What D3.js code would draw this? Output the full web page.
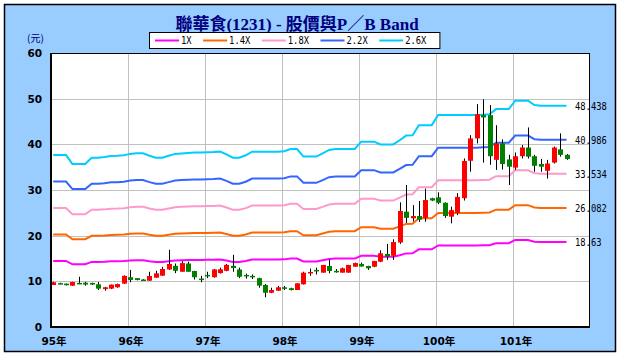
<!DOCTYPE html>
<html><head><meta charset="utf-8">
<script src="https://cdn.jsdelivr.net/npm/d3@7/dist/d3.min.js"></script>
<style>body{margin:0;background:#fff}svg{display:block}</style>
</head><body><svg id="c" width="622" height="358"></svg>
<script>
// ---- data ----
const titleText = "聯華食(1231) - 股價與P／B Band";
const unitText = "(元)";
const years = ["95年","96年","97年","98年","99年","100年","101年"];
const yTicks = [0,10,20,30,40,50,60];
const multiples = [1, 1.4, 1.8, 2.2, 2.6];
const bandNames = ["1X","1.4X","1.8X","2.2X","2.6X"];
const bandColors = ["#FF00FF","#FF6600","#FF99CC","#3366FF","#00CCFF"];
// monthly book value per share (1X line), 95/01 .. 101/09
const bps = [14.48,14.48,14.48,13.73,13.73,13.73,14.26,14.26,14.31,14.40,14.42,14.46,
  14.58,14.63,14.63,14.42,14.26,14.26,14.42,14.58,14.62,14.65,14.69,14.69,
  14.71,14.73,14.77,14.54,14.26,14.26,14.46,14.77,14.77,14.77,14.77,14.77,
  14.81,14.99,14.99,14.35,14.35,14.35,14.62,14.91,14.99,14.99,14.99,14.99,
  15.61,15.61,15.61,15.38,15.38,15.38,15.73,16.12,16.15,17.00,17.00,17.00,
  17.85,17.85,17.85,17.85,17.85,17.85,17.85,17.88,17.92,18.35,18.35,18.35,
  19.06,19.06,19.06,18.69,18.63,18.63,18.63,18.63,18.63];
const open = [9.2,9.6,9.5,9.05,9.65,9.7,9.65,9.35,8.3,8.4,8.7,9.5,
  10.9,10.7,10.4,10.14,10.8,11.24,12.6,13.4,12.1,13.9,12.26,10.6,
  11.4,10.9,11.8,12.3,13.4,12.6,11.4,11.2,10.7,9.2,7.5,7.95,
  8.7,8.5,8.1,9.35,12.0,12.5,11.9,13.36,12.3,11.9,11.9,13.2,
  13.8,13.36,13.2,14.3,16.0,15.6,18.5,25.25,23.8,24.3,23.9,28.2,
  28.4,27.2,24.16,25.0,28.2,36.4,41.3,46.4,46.4,36.6,40.2,36.7,
  34.9,37.4,39.3,37.4,35.7,34.2,36.0,38.9,37.7];
const high = [9.9,9.7,9.5,9.9,11.0,9.9,9.7,9.85,8.8,9.3,9.5,11.3,
  12.5,10.7,10.5,12.1,12.3,13.2,16.9,13.9,14.4,14.3,12.3,11.2,
  12.1,12.7,13.0,13.8,15.8,13.0,11.7,11.5,10.8,9.4,8.6,9.0,
  9.0,8.6,9.6,12.1,12.8,13.0,13.6,14.8,12.7,13.0,13.6,14.1,
  14.1,13.4,14.5,16.8,18.2,19.2,27.3,31.1,26.7,27.6,30.3,28.3,
  29.5,27.3,26.35,29.3,36.9,42.0,48.8,49.85,48.6,44.2,41.1,37.7,
  38.2,39.85,43.7,37.7,36.8,36.6,39.5,42.4,37.9];
const low = [9.2,9.4,9.1,9.0,9.5,9.05,9.2,8.1,7.95,8.3,8.6,9.4,
  9.8,10.2,10.1,10.1,10.8,11.2,12.5,11.8,12.1,12.1,10.4,9.8,
  10.7,10.8,11.7,12.2,12.1,10.7,10.6,10.5,8.6,6.5,7.4,7.9,
  8.1,8.0,8.1,9.3,11.2,11.5,11.9,11.75,11.9,11.9,11.9,13.2,
  13.2,12.5,13.1,14.2,14.7,14.7,18.2,22.8,23.1,23.0,23.06,27.6,
  26.9,23.9,22.7,24.5,27.7,34.0,40.2,36.0,35.5,34.4,34.5,31.1,
  34.4,36.9,36.9,34.0,34.0,32.5,35.8,37.3,36.6];
const close = [9.8,9.5,9.15,9.85,9.6,9.3,9.3,8.4,8.7,9.27,9.4,11.2,
  10.3,10.3,10.15,11.17,11.75,12.7,13.8,12.3,14.0,12.1,10.9,10.55,
  11.3,12.6,12.65,13.6,12.9,11.0,11.1,10.9,9.05,7.5,8.1,8.7,
  8.35,8.1,9.57,11.9,12.05,12.45,13.58,12.26,12.25,12.85,13.58,14.0,
  13.25,12.85,14.45,16.14,15.4,18.6,25.4,23.9,24.3,23.5,27.8,27.7,
  27.2,24.3,25.6,28.5,36.35,41.3,46.6,45.9,37.4,40.2,35.7,35.1,
  37.4,39.3,37.3,35.3,35.1,35.8,39.3,37.7,36.8];

// ---- drawing ----
const W = 622, H = 358;
const L = 51, R = 590, T = 53, B = 327;
const svg = d3.select("#c");
svg.append("rect").attr("x",0).attr("y",0).attr("width",W).attr("height",H).attr("fill","#fff");
svg.append("rect").attr("x",4.5).attr("y",4.5).attr("width",611).attr("height",347)
  .attr("fill","#99CCFF").attr("stroke","#000").attr("stroke-width",1.5);

const x = d3.scaleLinear().domain([0, 84]).range([L, R]);
const cx = i => x(i + 0.34);
const y = d3.scaleLinear().domain([0, 60]).range([B, T]);

svg.append("rect").attr("x",L).attr("y",T).attr("width",R-L).attr("height",B-T).attr("fill","#fff");

const grid = svg.append("g").attr("stroke","#C0C0C0").attr("stroke-width",1).attr("shape-rendering","crispEdges");
yTicks.filter(v => v > 0 && v < 60).forEach(v => {
  grid.append("line").attr("x1",L).attr("x2",R).attr("y1",Math.round(y(v))+0.5).attr("y2",Math.round(y(v))+0.5);
});
years.forEach((yr, k) => {
  if (k === 0) return;
  const gx = Math.round(x(k*12))+0.5;
  grid.append("line").attr("x1",gx).attr("x2",gx).attr("y1",T).attr("y2",B);
});

// Y axis
const yAxis = svg.append("g").attr("transform",`translate(${L},0)`)
  .call(d3.axisLeft(y).tickValues(yTicks).tickSize(0).tickPadding(9).tickFormat(d3.format("d")));
yAxis.select(".domain").remove();
yAxis.selectAll("text").attr("font-family","'DejaVu Sans', sans-serif").attr("font-weight","bold")
  .attr("font-size","10.5px").attr("fill","#000");

// X axis
const xAxis = svg.append("g").attr("transform",`translate(0,${B})`)
  .call(d3.axisBottom(x).tickValues(years.map((d,k)=>k*12)).tickSize(0).tickPadding(11)
    .tickFormat((d,k)=>years[k]));
xAxis.select(".domain").remove();
xAxis.selectAll("text").attr("dx",2.5).attr("font-family","'DejaVu Sans','Noto Sans CJK TC', sans-serif")
  .attr("font-weight","bold").attr("font-size","10.5px").attr("fill","#000");

// band lines
const idx = d3.range(bps.length);
multiples.forEach((m, k) => {
  const line = d3.line().x(i => cx(i)).y(i => y(bps[i]*m));
  svg.append("path").datum(idx).attr("d", line).attr("fill","none")
    .attr("stroke", bandColors[k]).attr("stroke-width",2).attr("stroke-linejoin","miter");
});

// candles
const cg = svg.append("g");
idx.forEach(i => {
  const xc = Math.round(cx(i)) + 0.5;
  cg.append("line").attr("x1",xc).attr("x2",xc).attr("y1",y(high[i])).attr("y2",y(low[i]))
    .attr("stroke","#000").attr("stroke-width",1);
  const top = y(Math.max(open[i], close[i])), bot = y(Math.min(open[i], close[i]));
  cg.append("rect").attr("x", xc - 2.5).attr("width",5).attr("y", top).attr("height", Math.max(1.5, bot - top))
    .attr("fill", close[i] >= open[i] ? "#FF0000" : "#008000");
});

// frame
svg.append("rect").attr("x",L+0.5).attr("y",T+0.5).attr("width",R-L-1).attr("height",B-T-1)
  .attr("fill","none").attr("stroke","#000").attr("stroke-width",1).attr("shape-rendering","crispEdges");
svg.append("line").attr("x1",L).attr("x2",L).attr("y1",T).attr("y2",B+1).attr("stroke","#000").attr("stroke-width",2);
svg.append("line").attr("x1",L-1).attr("x2",R).attr("y1",B).attr("y2",B).attr("stroke","#000").attr("stroke-width",2);

// end labels
const monoFont = "'DejaVu Sans Mono', monospace";
const last = bps.length - 1;
multiples.forEach((m) => {
  const txt = String(+(bps[last]*m).toFixed(3));
  svg.append("text").attr("x",575).attr("y", y(bps[last]*m)).attr("dy","0.36em")
    .attr("font-family",monoFont).attr("font-size","10.5px").attr("fill","#000")
    .attr("textLength", txt.length*5.3).attr("lengthAdjust","spacingAndGlyphs").text(txt);
});

// title
svg.append("text").attr("x",297).attr("y",30).attr("text-anchor","middle")
  .attr("font-family","'Liberation Serif','Noto Sans CJK TC', serif").attr("font-weight","bold")
  .attr("font-size","17px").attr("fill","#000080").text(titleText);
svg.append("text").attr("x",27).attr("y",42)
  .attr("font-family","'Noto Sans CJK TC', sans-serif").attr("font-size","10px").attr("fill","#000080").text(unitText);

// legend
const lg = svg.append("g");
const box = lg.append("rect").attr("x",149.5).attr("y",32.5).attr("height",16).attr("fill","#fff").attr("stroke","#000");
let lx = 155;
bandNames.forEach((name, k) => {
  lg.append("line").attr("x1",lx).attr("x2",lx+24).attr("y1",40.5).attr("y2",40.5)
    .attr("stroke",bandColors[k]).attr("stroke-width",2);
  const t = lg.append("text").attr("x",lx+26).attr("y",40.5).attr("dy","0.36em")
    .attr("font-family",monoFont).attr("font-size","10.5px").attr("fill","#000")
    .attr("textLength", name.length*5.3).attr("lengthAdjust","spacingAndGlyphs").text(name);
  lx = lx + 26 + name.length*5.3 + 11.5;
});
box.attr("width", lx - 149.5 + 2);
</script></body></html>
